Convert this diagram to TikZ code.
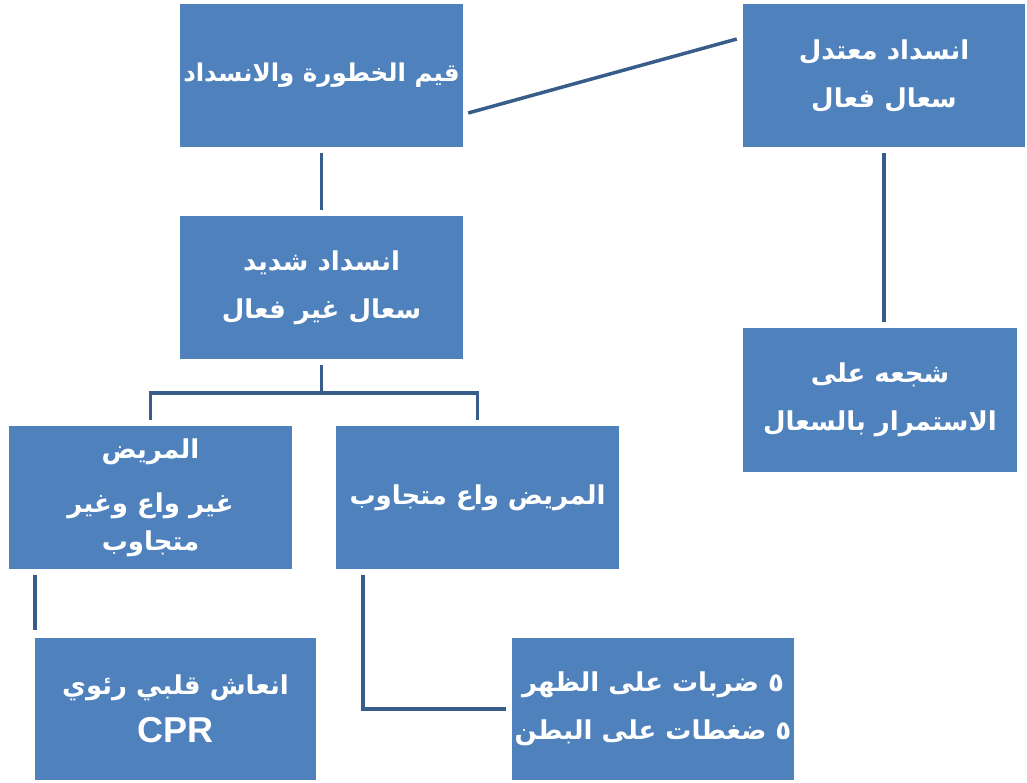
\documentclass[tikz,border=0pt]{standalone}
\usepackage{fontspec}
\newfontfamily\arabicfont[Script=Arabic]{DejaVu Sans}
\newfontfamily\latinfont{Liberation Sans}
\TeXXeTstate=1
\definecolor{boxblue}{RGB}{79,129,189}
\definecolor{linkblue}{RGB}{56,93,138}

\begin{document}
\begin{tikzpicture}[x = 1pt, y = -1pt,
    box/.style = {fill=boxblue, text=white, align=center, inner sep=0pt,
      font=\arabicfont\bfseries\fontsize{26}{48}\selectfont,
      minimum width=283pt, minimum height=143pt},
    link/.style = {draw=linkblue, line width=3.5pt, shorten <=6pt, shorten >=6pt}]
    \useasboundingbox (0,0) rectangle (1027,782);
    % boxes
    \node[box, font=\arabicfont\bfseries\fontsize{24.5}{48}\selectfont] (risk) at (321.5,75.5)
      {\beginR قيم الخطورة والانسداد\endR};
    \node[box, minimum width=282pt] (mild) at (884,75.5)
      {\beginR انسداد معتدل\endR\\ \beginR سعال فعال\endR};
    \node[box] (severe) at (321.5,287.5)
      {\beginR انسداد شديد\endR\\ \beginR سعال غير فعال\endR};
    \node[box] (unaware) at (150.5,497.5)
      {\beginR المريض\endR\\[6pt] \beginR غير واع وغير\endR\\[-10pt] \beginR متجاوب\endR};
    \node[box] (aware) at (477.5,497.5) {\beginR المريض واع متجاوب\endR};
    \node[box, minimum width=274pt, minimum height=144pt] (cough) at (880,400)
      {\beginR شجعه على\endR\\ \beginR الاستمرار بالسعال\endR};
    \node[box, minimum width=281pt, minimum height=142pt] (cpr) at (175.5,709)
      {\beginR انعاش قلبي رئوي\endR\\ {\latinfont\bfseries\fontsize{36}{40}\selectfont CPR}};
    \node[box, minimum width=282pt, minimum height=142pt] (thrust) at (653,709)
      {\beginR ٥ ضربات على الظهر\endR\\ \beginR ٥ ضغطات على البطن\endR};
    % connectors
    \draw[link, shorten <=0pt, shorten >=0pt]
      ([xshift=5pt, yshift=-37.5pt]risk.east) -- ([xshift=-6pt, yshift=36.5pt]mild.west);
    \draw[link] (risk.south) -- (severe.north);
    \draw[link] (mild.south) -- (mild.south |- cough.north);
    \coordinate (fork) at ([yshift=-34pt]severe.south);
    \draw[link] (severe.south) -- (fork) -| (unaware.north);
    \draw[link, shorten <=0pt] (fork) -| (aware.north);
    \draw[link, shorten >=8pt] (unaware.south -| cpr.west) -- (cpr.north west);
    \draw[link] ([xshift=27pt]aware.south west) |- (thrust.west);
\end{tikzpicture}
\end{document}
